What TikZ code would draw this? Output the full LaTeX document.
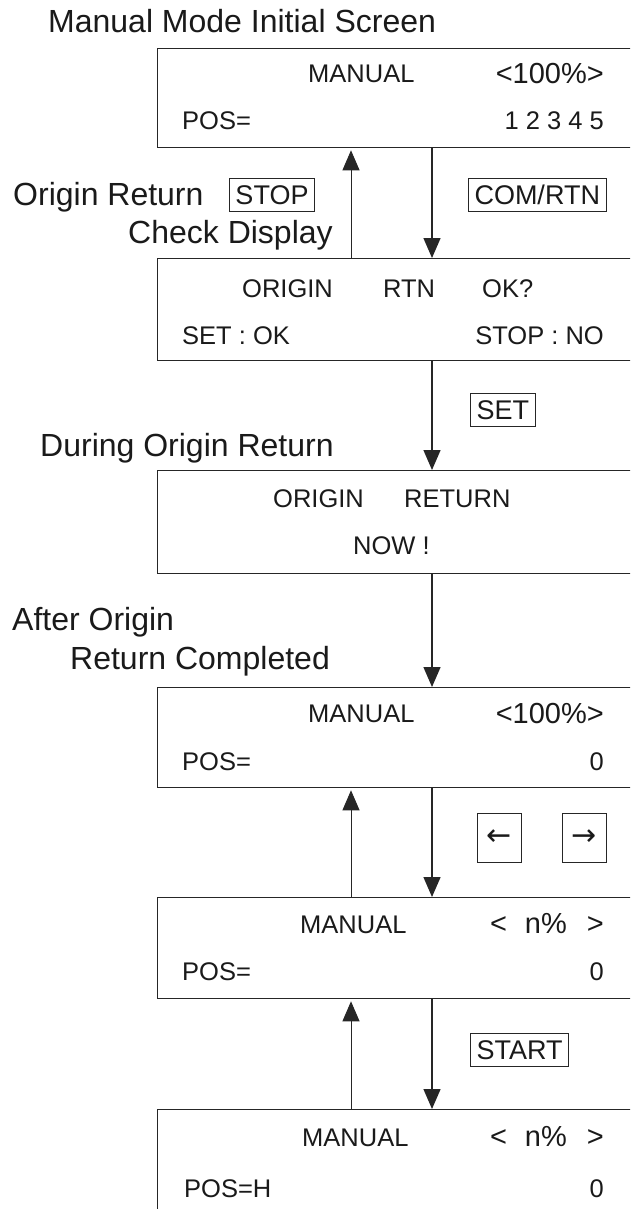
\documentclass[tikz,border=0pt]{standalone}
\usepackage{fontspec}
\setmainfont{Liberation Sans}
\newfontfamily\arrowfont{DejaVu Sans}
\usepackage{tikz}
\usetikzlibrary{arrows.meta}
\definecolor{InkBlack}{HTML}{1A1A1A}
\definecolor{FrameGray}{HTML}{262626}
\newcommand{\screenbox}[3]{%
	\node[screen, minimum height=#3-#2] (#1) at (157,#2) {};
}

\begin{document}
\begin{tikzpicture}[x=1pt,y=-1pt,
	screen/.style={draw=FrameGray, line width=1.3pt, minimum width=490pt, anchor=north west, inner sep=0pt},
	lcd/.style={font=\fontsize{25.5}{30}\selectfont, text=InkBlack, inner sep=0pt, anchor=base west},
	lcdright/.style={lcd, anchor=base east},
	lcdbig/.style={lcdright, font=\fontsize{29}{34}\selectfont},
	caption/.style={font=\fontsize{32}{38}\selectfont, text=InkBlack, inner sep=0pt, anchor=base west},
	key/.style={draw=FrameGray, line width=1pt, text=InkBlack, font=\fontsize{27}{32}\selectfont, inner xsep=6pt, inner ysep=7pt, text height=19.5pt, text depth=0pt},
	arrowkey/.style={draw=FrameGray, line width=1pt, text=InkBlack, minimum width=44pt, minimum height=49pt, inner sep=0pt, font=\arrowfont\fontsize{30}{30}\selectfont},
	goline/.style={-{Triangle[length=20pt,width=17pt]}, line width=1.4pt, draw=FrameGray},
	backline/.style={-{Triangle[length=20pt,width=17pt]}, line width=1pt, draw=FrameGray, shorten >=2pt}]
	\useasboundingbox (0,0) rectangle (630,1209);
	\clip (0,0) rectangle (630,1209);
	\fill[white] (0,0) rectangle (630,1209);

	\coordinate (upx) at (351,0);
	\coordinate (dnx) at (432,0);

	% Manual mode initial screen
	\node[caption] (cap1) at (48,33) {Manual Mode Initial Screen};
	\screenbox{scr1}{48}{147}
	\node[lcd] (s1a) at (308,83) {MANUAL};
	\node[lcdbig] (s1b) at (604,84) {<100\%>};
	\node[lcd] (s1c) at (182,130) {POS=};
	\node[lcdright] (s1d) at (604,130) {1 2 3 4 5};

	% Origin return check display
	\node[caption] (cap2a) at (13,205) {Origin Return};
	\node[caption] (cap2b) at (128,243) {Check Display};
	\node[key] (kstop) at (272,195) {STOP};
	\node[key, anchor=west] (kcom) at (468,195) {COM/RTN};
	\screenbox{scr2}{258}{360}
	\node[lcd] (s2a) at (242,297) {ORIGIN};
	\node[lcd] (s2b) at (383,297) {RTN};
	\node[lcd] (s2c) at (482,297) {OK?};
	\node[lcd] (s2d) at (182,344) {SET : OK};
	\node[lcdright] (s2e) at (604,344) {STOP : NO};

	% During origin return
	\node[key, anchor=west] (kset) at (470,410) {SET};
	\node[caption] (cap3) at (40,456) {During Origin Return};
	\screenbox{scr3}{470}{573}
	\node[lcd] (s3a) at (273,507) {ORIGIN};
	\node[lcd] (s3b) at (404,507) {RETURN};
	\node[lcd] (s3c) at (353,554) {NOW !};

	% After origin return completed
	\node[caption] (cap4a) at (12,630) {After Origin};
	\node[caption] (cap4b) at (70,669) {Return Completed};
	\screenbox{scr4}{687}{787}
	\node[lcd] (s4a) at (308,722) {MANUAL};
	\node[lcdbig] (s4b) at (604,723) {<100\%>};
	\node[lcd] (s4c) at (182,770) {POS=};
	\node[lcdright] (s4d) at (604,770) {0};

	% Jog keys
	\node[arrowkey] (kleft) at (499,838) {←};
	\node[arrowkey] (kright) at (584,838) {→};
	\screenbox{scr5}{897}{998}
	\node[lcd] (s5a) at (300,933) {MANUAL};
	\node[lcdbig] (s5b) at (604,933) {<\hspace{18pt}n\%\hspace{20pt}>};
	\node[lcd] (s5c) at (182,980) {POS=};
	\node[lcdright] (s5d) at (604,980) {0};

	% Start
	\node[key, anchor=west] (kstart) at (470,1050) {START};
	\screenbox{scr6}{1109}{1212}
	\node[lcd] (s6a) at (302,1146) {MANUAL};
	\node[lcdbig] (s6b) at (604,1146) {<\hspace{18pt}n\%\hspace{20pt}>};
	\node[lcd] (s6c) at (184,1197) {POS=H};
	\node[lcdright] (s6d) at (604,1197) {0};

	% Connectors
	\draw[goline] (scr1.south -| dnx) -- (scr2.north -| dnx);
	\draw[backline] (scr2.north -| upx) -- (scr1.south -| upx);
	\draw[goline] (scr2.south -| dnx) -- (scr3.north -| dnx);
	\draw[goline] (scr3.south -| dnx) -- (scr4.north -| dnx);
	\draw[goline] (scr4.south -| dnx) -- (scr5.north -| dnx);
	\draw[backline] (scr5.north -| upx) -- (scr4.south -| upx);
	\draw[goline] (scr5.south -| dnx) -- (scr6.north -| dnx);
	\draw[backline] (scr6.north -| upx) -- (scr5.south -| upx);
\end{tikzpicture}
\end{document}
